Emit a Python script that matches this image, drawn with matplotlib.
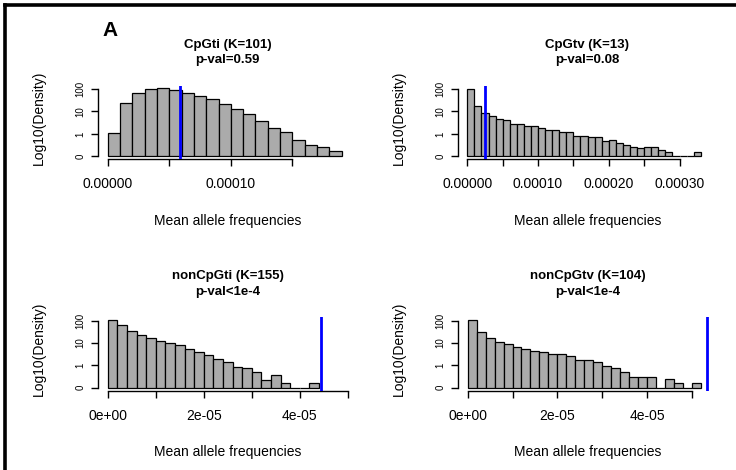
import numpy as np
import matplotlib
matplotlib.use("Agg")
import matplotlib.pyplot as plt
from matplotlib.lines import Line2D

plt.rcParams['font.family'] = ['Liberation Sans', 'DejaVu Sans']

# ---------------- data ----------------
panel_names = ["CpGti (K=101)", "CpGtv (K=13)", "nonCpGti (K=155)", "nonCpGtv (K=104)"]
pvals = ["p-val=0.59", "p-val=0.08", "p-val<1e-4", "p-val<1e-4"]

# histogram bin widths (breaks start at 0)
bin_widths = [1e-5, 1e-5, 2e-6, 2e-6]

# bar heights on the log axis (0 -> "0", 1 -> "1", 2 -> "10", 3 -> "100")
cpgti = [1.04, 2.36, 2.82, 2.99, 3.03, 2.97, 2.84, 2.70, 2.54, 2.34, 2.12, 1.88,
         1.57, 1.28, 1.07, 0.73, 0.49, 0.40, 0.21]
cpgtv = [3.02, 2.24, 1.94, 1.80, 1.66, 1.60, 1.45, 1.45, 1.34, 1.36, 1.25, 1.19,
         1.18, 1.07, 1.07, 0.91, 0.88, 0.87, 0.85, 0.66, 0.73, 0.58, 0.49, 0.42,
         0.36, 0.42, 0.42, 0.29, 0.20, 0, 0, 0, 0.20]
noncpgti = [3.03, 2.79, 2.52, 2.37, 2.21, 2.10, 1.98, 1.90, 1.75, 1.60, 1.46, 1.30,
            1.13, 0.94, 0.88, 0.70, 0.33, 0.55, 0.21, 0, 0, 0.22]
noncpgtv = [3.03, 2.51, 2.24, 2.06, 1.96, 1.84, 1.72, 1.66, 1.61, 1.51, 1.51, 1.42,
            1.24, 1.25, 1.15, 0.96, 0.87, 0.70, 0.48, 0.48, 0.48, 0, 0.37, 0.19,
            0, 0.19]
heights = [cpgti, cpgtv, noncpgti, noncpgtv]

# observed values (blue lines)
observed = [5.9e-5, 2.45e-5, 4.45e-5, 5.32e-5]

# x-range upper bound used for the axis limits
x_range_max = [1.95e-4, 3.39e-4, 5.0e-5, 5.34e-5]

# x ticks and labels
x_ticks = [[0, 5e-5, 1e-4, 1.5e-4],
           [0, 5e-5, 1e-4, 1.5e-4, 2e-4, 2.5e-4, 3e-4],
           [0, 1e-5, 2e-5, 3e-5, 4e-5, 5e-5],
           [0, 1e-5, 2e-5, 3e-5, 4e-5, 5e-5]]
x_labels = [["0.00000", "", "0.00010", ""],
            ["0.00000", "", "0.00010", "", "0.00020", "", "0.00030"],
            ["0e+00", "", "2e-05", "", "4e-05", ""],
            ["0e+00", "", "2e-05", "", "4e-05", ""]]

y_ticks = [0, 1, 2, 3]
y_labels = ["0", "1", "10", "100"]

# ---------------- layout ----------------
W, H = 736, 470
fig = plt.figure(figsize=(W / 100, H / 100), dpi=100)

# plot regions in pixels: left, top, width, height
regions = [(98.3, 85.7, 259, 73.4),
           (457.7, 85.7, 259, 73.4),
           (98.3, 317.2, 259, 73.4),
           (458.0, 317.2, 259, 73.4)]

def fx(px):
    return px / W

def fy(py):
    return 1 - py / H

bar_color = '#ABABAB'

for i in range(4):
    l, t, w, h = regions[i]
    ax = fig.add_axes([fx(l), fy(t + h), w / W, h / H])
    bw = bin_widths[i]
    vals = np.array(heights[i])
    left_edges = np.arange(len(vals)) * bw
    ax.bar(left_edges, vals, width=bw, align='edge', color=bar_color,
           edgecolor='black', linewidth=0.9, zorder=2)
    xr = x_range_max[i]
    ax.set_xlim(-0.04 * xr, xr * 1.04)
    ax.set_ylim(-0.13, 3.15)
    ax.axvline(observed[i], color='#0000FF', linewidth=2.0, zorder=3)

    for s in ['top', 'right']:
        ax.spines[s].set_visible(False)
    ax.spines['left'].set_bounds(0, 3)
    ax.spines['bottom'].set_bounds(x_ticks[i][0], x_ticks[i][-1])
    for s in ['left', 'bottom']:
        ax.spines[s].set_linewidth(1.0)

    ax.set_xticks(x_ticks[i])
    ax.set_xticklabels(x_labels[i], fontsize=10)
    ax.set_yticks(y_ticks)
    ax.set_yticklabels(y_labels, fontsize=7, rotation=90, va='center')
    ax.tick_params(axis='x', length=5, width=1.0, pad=8)
    ax.tick_params(axis='y', length=5, width=1.0, pad=4)
    ax.patch.set_visible(False)

    cx = l + w / 2
    fig.text(fx(cx), fy(t - 41), panel_names[i], ha='center', va='center',
             fontsize=9.5, fontweight='bold')
    fig.text(fx(cx), fy(t - 25.5), pvals[i], ha='center', va='center',
             fontsize=9.5, fontweight='bold')
    fig.text(fx(cx), fy(t + h + 61.5), "Mean allele frequencies", ha='center',
             va='center', fontsize=10)
    fig.text(fx(l - 59), fy(t + h / 2 - 5), "Log10(Density)", ha='center',
             va='center', rotation=90, fontsize=10)

# panel letter
fig.text(fx(110), fy(31), "A", ha='center', va='center', fontsize=15,
         fontweight='bold')

# frame (top and left)
fig.add_artist(Line2D([fx(4.5), fx(4.5)], [0, fy(5)], transform=fig.transFigure,
                      color='black', linewidth=2.6, solid_capstyle='projecting'))
fig.add_artist(Line2D([fx(4.5), 1], [fy(5), fy(5)], transform=fig.transFigure,
                      color='black', linewidth=2.6, solid_capstyle='projecting'))

fig.savefig("out.png", dpi=100)
